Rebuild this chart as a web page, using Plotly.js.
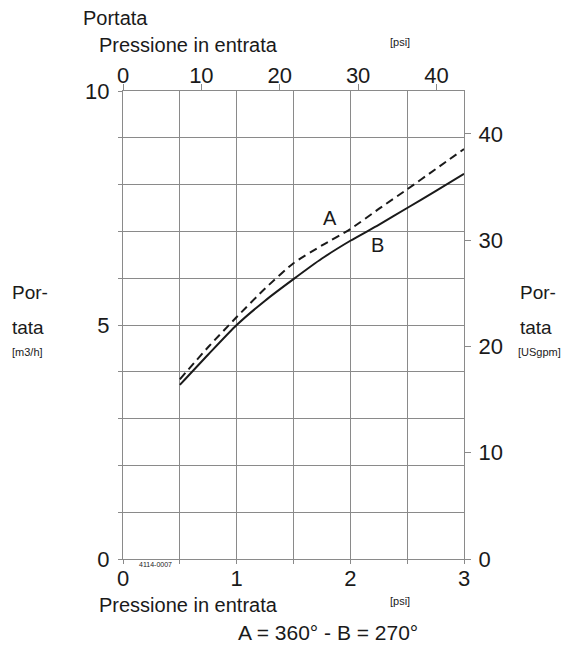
<!DOCTYPE html>
<html>
<head>
<meta charset="utf-8">
<script src="https://cdn.plot.ly/plotly-3.0.1.min.js"></script>
<style>
html,body{margin:0;padding:0;background:#fff;}
#chart{width:575px;height:650px;}
</style>
</head>
<body>
<div id="chart"></div>
<script>
// ---- data ----
const pressureBar = [0.5, 0.75, 1.0, 1.25, 1.5, 1.75, 2.0, 2.25, 2.5, 2.75, 3.0];
const flowA = [3.84, 4.53, 5.17, 5.78, 6.32, 6.70, 7.05, 7.48, 7.90, 8.33, 8.76]; // A = 360°
const flowB = [3.72, 4.37, 5.00, 5.52, 5.98, 6.42, 6.80, 7.14, 7.50, 7.86, 8.23]; // B = 270°

const barTicks = [0, 0.5, 1, 1.5, 2, 2.5, 3];
const barTickText = ['0', '', '1', '', '2', '', '3'];
const m3hTicks = [0, 1, 2, 3, 4, 5, 6, 7, 8, 9, 10];
const m3hTickText = ['0', '', '', '', '', '5', '', '', '', '', '10'];
const psiTicks = [0, 10, 20, 30, 40];
const gpmTicks = [0, 10, 20, 30, 40];

const barRange = [0, 3];
const psiRange = [0, 3 * 14.5038];
const m3hRange = [0, 10];
const gpmRange = [0, 10 * 4.4029];

// ---- layout helpers ----
const W = 575, H = 650;
const M = {l: 123, r: 111, t: 91, b: 91};
const pw = W - M.l - M.r, ph = H - M.t - M.b;
const px = v => (v - M.l) / pw;
const py = v => (H - M.b - v) / ph;

const FONT = 'Liberation Sans, Arial, Helvetica, sans-serif';
const GRID = '#8a8a8a';
const INK = '#1a1a1a';

function txt(text, x, y, size, xanchor) {
  return {
    text: text, xref: 'paper', yref: 'paper', x: px(x), y: py(y),
    xanchor: xanchor || 'left', yanchor: 'middle', showarrow: false,
    font: {family: FONT, size: size, color: INK}
  };
}

const traces = [
  {x: pressureBar, y: flowA, mode: 'lines', name: 'A',
   line: {color: INK, width: 2, dash: '8px,5px', shape: 'spline', smoothing: 0.6},
   hoverinfo: 'skip', showlegend: false},
  {x: pressureBar, y: flowB, mode: 'lines', name: 'B',
   line: {color: INK, width: 2, shape: 'spline', smoothing: 0.6},
   hoverinfo: 'skip', showlegend: false},
  {x: [], y: [], xaxis: 'x2', yaxis: 'y2', mode: 'lines', showlegend: false, hoverinfo: 'skip'}
];

const layout = {
  width: W, height: H,
  margin: M,
  paper_bgcolor: '#fff', plot_bgcolor: '#fff',
  showlegend: false,
  font: {family: FONT, color: INK},
  xaxis: {
    range: barRange, tickvals: barTicks, ticktext: barTickText,
    showgrid: true, gridcolor: GRID, gridwidth: 1,
    zeroline: false, showline: true, linecolor: GRID, linewidth: 1, mirror: true,
    ticks: 'outside', ticklen: 4, tickcolor: GRID,
    tickfont: {family: FONT, size: 22, color: INK},
    ticklabelstandoff: -4, fixedrange: true
  },
  yaxis: {
    range: m3hRange, tickvals: m3hTicks, ticktext: m3hTickText,
    showgrid: true, gridcolor: GRID, gridwidth: 1,
    zeroline: false, showline: true, linecolor: GRID, linewidth: 1, mirror: true,
    ticks: 'outside', ticklen: 4, tickcolor: GRID,
    tickfont: {family: FONT, size: 22, color: INK},
    ticklabelstandoff: 4, fixedrange: true
  },
  xaxis2: {
    overlaying: 'x', side: 'top', anchor: 'y2',
    range: psiRange, tickvals: psiTicks,
    showgrid: false, zeroline: false, showline: false,
    ticks: 'outside', ticklen: 6, tickcolor: GRID,
    tickfont: {family: FONT, size: 22, color: INK},
    ticklabelstandoff: -8, fixedrange: true
  },
  yaxis2: {
    overlaying: 'y', side: 'right', anchor: 'x2',
    range: gpmRange, tickvals: gpmTicks,
    showgrid: false, zeroline: false, showline: false,
    ticks: 'outside', ticklen: 6, tickcolor: GRID,
    tickfont: {family: FONT, size: 22, color: INK},
    ticklabelstandoff: 3, fixedrange: true
  },
  annotations: [
    txt('Portata', 81, 18, 20),
    txt('Pressione in entrata', 97, 45, 20),
    txt('[psi]', 388, 42, 11),
    txt('Por-', 10, 292, 19),
    txt('tata', 10, 327, 19),
    txt('[m3/h]', 10, 352, 11),
    txt('Por-', 518, 292, 19),
    txt('tata', 518, 327, 19),
    txt('[USgpm]', 516, 352, 11),
    txt('Pressione in entrata', 97, 605, 20),
    txt('[psi]', 388, 601, 11),
    txt('A = 360° - B = 270°', 328, 632, 21, 'center'),
    txt('4114-0007', 137, 564, 7),
    {text: 'A', x: 1.82, y: 7.29, xref: 'x', yref: 'y', showarrow: false,
     xanchor: 'center', yanchor: 'middle', font: {family: FONT, size: 20, color: INK}},
    {text: 'B', x: 2.24, y: 6.71, xref: 'x', yref: 'y', showarrow: false,
     xanchor: 'center', yanchor: 'middle', font: {family: FONT, size: 20, color: INK}}
  ]
};

Plotly.newPlot('chart', traces, layout, {staticPlot: true, displayModeBar: false});
</script>
</body>
</html>
